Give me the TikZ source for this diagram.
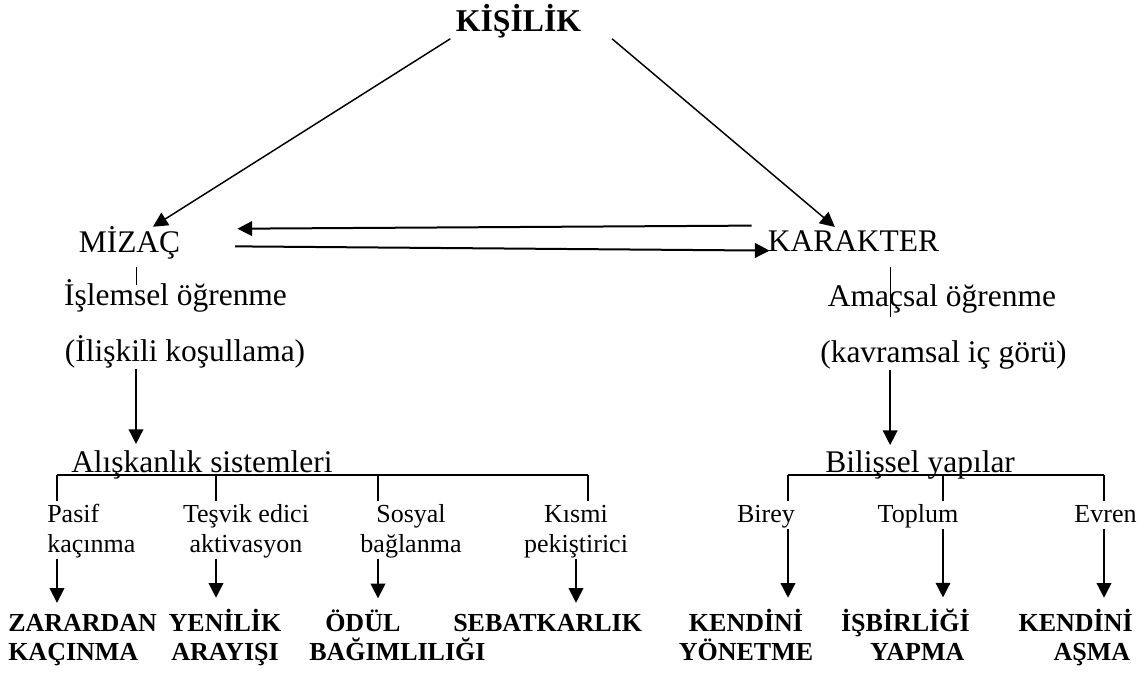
\documentclass[tikz,border=0pt]{standalone}
\usepackage{fontspec}
\setmainfont{Liberation Serif}
\usetikzlibrary{arrows.meta}

\begin{document}
\begin{tikzpicture}[x=0.75pt, y=-0.75pt,
    every node/.style={inner sep=0pt},
    main/.style={font=\fontsize{23.6}{28}\selectfont},
    head/.style={font=\fontsize{23.8}{28}\selectfont\bfseries},
    subl/.style={font=\fontsize{19.5}{22.5}\selectfont, align=center},
    subr/.style={font=\fontsize{19.5}{23}\selectfont},
    res/.style={font=\fontsize{19.5}{21}\selectfont\bfseries, outer ysep=9pt},
    arr/.style={-{Triangle[length=11pt,width=11pt]}, line width=1.1pt}]
          \useasboundingbox (0,0) rectangle (1147,673);

          \node[head, anchor=base] (kisilik) at (518.5,32) {KİŞİLİK};

          \node[main, anchor=base] (mizac)    at (129.5,253) {MİZAÇ};
          \node[main, anchor=base] (karakter) at (853.5,252) {KARAKTER};

          \node[main, anchor=base] (islemsel)  at (175.5,306) {İşlemsel öğrenme};
          \node[main, anchor=base] (iliskili)  at (185,362)   {(İlişkili koşullama)};
          \node[main, anchor=base] (amacsal)   at (942,307)   {Amaçsal öğrenme};
          \node[main, anchor=base] (kavramsal) at (943.5,363) {(kavramsal iç görü)};

          \node[main, anchor=base west] (aliskanlik) at (71,473)  {Alışkanlık sistemleri};
          \node[main, anchor=base west] (bilissel)   at (825,473) {Bilişsel yapılar};

          % two-line nodes: base is the last line
          \node[subl, align=left, anchor=base west] (pasif) at (47,553) {Pasif\\kaçınma};
          \node[subl, anchor=base] (tesvik) at (246,553) {Teşvik edici\\aktivasyon};
          \node[subl, anchor=base] (sosyal) at (411,553) {Sosyal\\bağlanma};
          \node[subl, anchor=base] (kismi)  at (576,553) {Kısmi\\pekiştirici};

          \node[subr, anchor=base] (birey)  at (766,523)    {Birey};
          \node[subr, anchor=base] (toplum) at (918,523)    {Toplum};
          \node[subr, anchor=base] (evren)  at (1105.5,523) {Evren};

          \node[res, align=left, anchor=base west]   (zarardan) at (8,660)   {ZARARDAN\\KAÇINMA};
          \node[res, align=center, anchor=base]      (yenilik)  at (225,660) {YENİLİK\\ARAYIŞI};
          \node[res, align=left, anchor=base west]   (odul)     at (309,660) {\hspace*{12pt}ÖDÜL\\BAĞIMLILIĞI};
          \node[res, anchor=base west]               (sebat)    at (453,632) {SEBATKARLIK};
          \node[res, align=center, anchor=base]      (yonetme)  at (746,660) {KENDİNİ\\YÖNETME};
          \node[res, align=right, anchor=base east]  (isbirligi) at (970,660) {İŞBİRLİĞİ\\YAPMA\hspace*{4pt}};
          \node[res, align=right, anchor=base east]  (asma)     at (1133,660) {KENDİNİ\\AŞMA\hspace*{2pt}};

          % kisilik
          \draw[arr] ([xshift=-4pt]kisilik.south west) -- ([xshift=17.6pt]mizac.north);
          \draw[arr] ([xshift=23pt]kisilik.south east) -- ([xshift=-14pt,yshift=3pt]karakter.north);

          \draw[arr, line width=1.5pt] ([xshift=-12pt,yshift=12pt]karakter.west) -- ([xshift=42.75pt,yshift=11pt]mizac.east);
          \draw[arr, line width=1.5pt] ([xshift=41pt,yshift=-2.25pt]mizac.east) -- ([xshift=1.5pt,yshift=-6.75pt]karakter.west);

          \draw[line width=0.75pt] ([xshift=4.9pt,yshift=-5pt]mizac.south) -- ++(0,18);
          \draw[line width=0.75pt] ([xshift=28pt,yshift=-11pt]karakter.south) -- ++(0,50);

          \draw[arr] ([xshift=-36.75pt]iliskili.south) -- ++(0,75);
          \draw[arr] ([xshift=-40pt]kavramsal.south) -- ++(0,75);

          % brackets
          \coordinate (ab1) at (57,475);
          \coordinate (ab2) at (216,475);
          \coordinate (ab3) at (378,475);
          \coordinate (ab4) at (588,475);
          \coordinate (bb1) at (788,475);
          \coordinate (bb2) at (943,475);
          \coordinate (bb3) at (1104,475);

          \draw[line width=1.1pt] (ab1) -- (ab4);
          \draw[line width=1.1pt] (bb1) -- (bb3);
          \foreach \n in {ab1,ab2,ab3,ab4,bb1,bb2,bb3}
            \draw[line width=1.1pt] (\n) -- ++(0,26);

          \draw[arr] (ab1 |- pasif.south)  -- (ab1 |- zarardan.north);
          \draw[arr] (ab2 |- tesvik.south) -- (ab2 |- yenilik.north);
          \draw[arr] (ab3 |- sosyal.south) -- (ab3 |- odul.north);
          \draw[arr] (kismi.south)         -- (kismi.south |- sebat.north);

          \draw[arr] (bb1 |- birey.south)  -- (bb1 |- yonetme.north);
          \draw[arr] (bb2 |- toplum.south) -- (bb2 |- isbirligi.north);
          \draw[arr] (bb3 |- birey.south)  -- (bb3 |- asma.north);
        \end{tikzpicture}
\end{document}
